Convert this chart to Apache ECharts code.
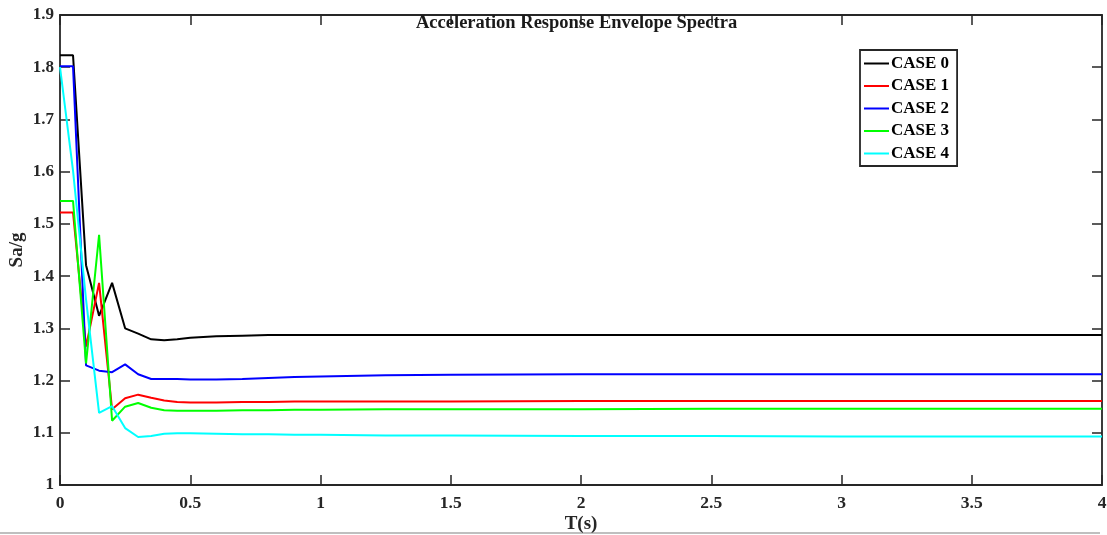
<!DOCTYPE html>
<html>
<head>
<meta charset="utf-8">
<script src="https://cdn.jsdelivr.net/npm/echarts@6/dist/echarts.min.js"></script>
<style>html,body{margin:0;padding:0;background:#fff}#c{width:1107px;height:535px}</style>
</head>
<body>
<div id="c"></div>
<script>
var periods = [0, 0.05, 0.1, 0.15, 0.2, 0.25, 0.3, 0.35, 0.4, 0.45, 0.5, 0.6, 0.7, 0.8, 0.9, 1.0, 1.25, 1.5, 2, 2.5, 3, 3.5, 4];
var case0 = [1.823, 1.823, 1.421, 1.324, 1.387, 1.300, 1.290, 1.279, 1.277, 1.279, 1.282, 1.285, 1.286, 1.287, 1.287, 1.287, 1.287, 1.287, 1.287, 1.287, 1.287, 1.287, 1.287];
var case1 = [1.522, 1.522, 1.265, 1.387, 1.145, 1.166, 1.173, 1.167, 1.162, 1.159, 1.158, 1.158, 1.159, 1.159, 1.160, 1.160, 1.160, 1.160, 1.161, 1.161, 1.161, 1.161, 1.161];
var case2 = [1.802, 1.802, 1.229, 1.219, 1.216, 1.231, 1.212, 1.203, 1.203, 1.203, 1.202, 1.202, 1.203, 1.205, 1.207, 1.208, 1.210, 1.211, 1.212, 1.212, 1.212, 1.212, 1.212];
var case3 = [1.544, 1.544, 1.233, 1.479, 1.123, 1.150, 1.157, 1.148, 1.143, 1.142, 1.142, 1.142, 1.143, 1.143, 1.144, 1.144, 1.145, 1.145, 1.145, 1.146, 1.146, 1.146, 1.146];
var case4 = [1.800, 1.602, 1.355, 1.138, 1.151, 1.109, 1.092, 1.094, 1.098, 1.099, 1.099, 1.098, 1.097, 1.097, 1.096, 1.096, 1.095, 1.095, 1.094, 1.094, 1.093, 1.093, 1.093];
var seriesNames = ['CASE 0', 'CASE 1', 'CASE 2', 'CASE 3', 'CASE 4'];
var seriesColors = ['#000000', '#ff0000', '#0000ff', '#00ff00', '#00ffff'];
var allCases = [case0, case1, case2, case3, case4];

var FONT = 'Liberation Serif';
var AX = '#262626';
function pairs(v) { return periods.map(function (t, i) { return [t, v[i]]; }); }

var chart = echarts.init(document.getElementById('c'), null, {renderer: 'canvas'});
var baseX = {
  type: 'value', min: 0, max: 4, interval: 0.5, gridIndex: 0,
  axisLine: {show: true, onZero: false, lineStyle: {color: AX, width: 1.8}},
  axisTick: {show: true, inside: true, length: 10, lineStyle: {color: AX, width: 1.5}},
  splitLine: {show: false}
};
var baseY = {
  type: 'value', min: 1, max: 1.9, interval: 0.1, gridIndex: 0,
  axisLine: {show: true, onZero: false, lineStyle: {color: AX, width: 1.8}},
  axisTick: {show: true, inside: true, length: 10, lineStyle: {color: AX, width: 1.5}},
  splitLine: {show: false}
};
chart.setOption({
  animation: false,
  backgroundColor: '#fff',
  grid: {left: 60, right: 5, top: 15, bottom: 50, containLabel: false, outerBoundsMode: 'none'},
  xAxis: [
    Object.assign({}, baseX, {
      position: 'bottom',
      name: 'T(s)', nameLocation: 'middle', nameGap: 30, nameMoveOverlap: false,
      nameTextStyle: {fontFamily: FONT, fontWeight: 'bold', fontSize: 19, color: AX},
      axisLabel: {show: true, margin: 9, fontFamily: FONT, fontWeight: 'bold', fontSize: 17.5, color: AX}
    }),
    Object.assign({}, baseX, {position: 'top', axisLabel: {show: false}})
  ],
  yAxis: [
    Object.assign({}, baseY, {
      position: 'left',
      name: 'Sa/g', nameLocation: 'middle', nameGap: 33, nameMoveOverlap: false,
      nameTextStyle: {fontFamily: FONT, fontWeight: 'bold', fontSize: 19, color: AX},
      axisLabel: {show: true, margin: 6, fontFamily: FONT, fontWeight: 'bold', fontSize: 17, color: AX}
    }),
    Object.assign({}, baseY, {position: 'right', axisLabel: {show: false}})
  ],
  legend: {
    orient: 'vertical', left: 860, top: 50,
    data: seriesNames,
    icon: 'rect', itemWidth: 25, itemHeight: 2, itemGap: 5.5,
    padding: [5, 8, 4, 4],
    borderColor: AX, borderWidth: 1.8, backgroundColor: '#fff',
    textStyle: {fontFamily: FONT, fontWeight: 'bold', fontSize: 17, color: '#000', padding: [0, 0, 0, -3]}
  },
  graphic: [
    {type: 'text', left: 416, top: 14, z: 100,
     style: {text: 'Acceleration Response Envelope Spectra', fontFamily: FONT, fontWeight: 'bold', fontSize: 18.5, fill: '#1a1a1a'}},
    {type: 'line', shape: {x1: 0, y1: 533, x2: 1100, y2: 533}, style: {stroke: '#aaaaaa', lineWidth: 1.5}}
  ],
  series: allCases.map(function (v, i) {
    return {
      name: seriesNames[i], type: 'line', xAxisIndex: 0, yAxisIndex: 0,
      data: pairs(v), showSymbol: false, symbol: 'none',
      lineStyle: {color: seriesColors[i], width: 2},
      itemStyle: {color: seriesColors[i]}
    };
  })
});
</script>
</body>
</html>
